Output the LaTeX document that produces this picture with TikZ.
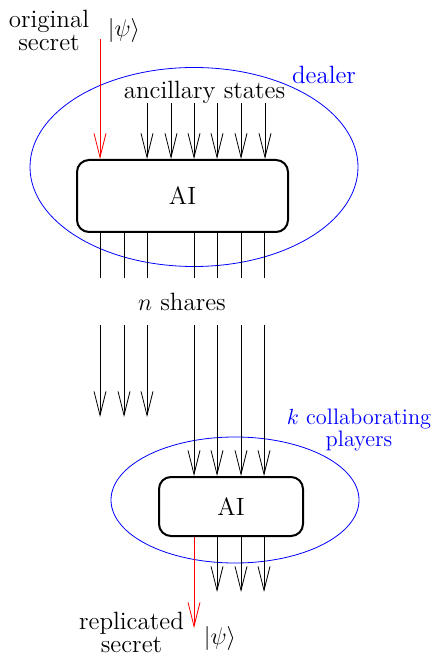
\documentclass[tikz,border=0pt]{standalone}
\usetikzlibrary{arrows.meta,shapes.geometric}

\tikzstyle{box} = [draw = black, line width = 1pt, rounded corners = 6pt, fill = white, font = \fontsize{12.5}{14}\selectfont]
\tikzstyle{zone} = [ellipse, draw = blue, inner sep = 0pt]
\tikzstyle{lbl} = [align = center, inner sep = 0pt, font = \fontsize{12.5}{11.5}\selectfont]
\tikzstyle{wire} = [-{Straight Barb[length = 12pt, width = 6pt]}]
\tikzstyle{secret} = [wire, draw = red]

\begin{document}
\begin{tikzpicture}[x = 0.5pt, y = -0.5pt]
    \useasboundingbox (0,0) rectangle (435,656);

    % dealer side
    \node [zone, minimum width = 164pt, minimum height = 99.5pt] (dealer) at (194,167) {};
    \node [box, minimum width = 105.5pt, minimum height = 36pt] (ai1) at (182.5,196) {AI};
    \node [lbl] (orig) at (49,30) {original\\secret};
    \node [lbl] (psi1) at (124,31) {$|\psi\rangle$};
    \node [lbl] (anc) at (204.5,92) {ancillary states};
    \node [lbl, text = blue] (dlbl) at (324,75) {dealer};
    \node [lbl] (shares) at (182,302) {$n$ shares};

    % players side
    \node [zone, minimum width = 124pt, minimum height = 63pt] (players) at (235,500) {};
    \node [box, minimum width = 72pt, minimum height = 29.5pt] (ai2) at (231,506.5) {AI};
    \node [lbl, text = blue, font = \fontsize{11.2}{9.5}\selectfont] (plbl) at (359,430) {$k$ collaborating\\players};
    \node [lbl] (repl) at (131.5,632) {replicated\\secret};
    \node [lbl] (psi2) at (220,638) {$|\psi\rangle$};

    % secret in and out
    \coordinate (s0) at (100,39);
    \coordinate (s1) at (194,628);
    \draw [secret] (s0) -- (ai1.north -| s0);
    \draw [secret] (ai2.south -| s1) -- (s1);

    % ancillary states
    \foreach \x in {147,171,194,217,241,265}
    {
        \coordinate (a\x) at (\x,103);
        \draw [wire] (a\x) -- (ai1.north -| a\x);
    }

    % shares leaving the dealer
    \foreach \x in {100,124,147,194,217,241,264}
    {
        \coordinate (t\x) at (\x,278);
        \coordinate (b\x) at (\x,325);
        \draw (ai1.south -| t\x) -- (t\x);
    }
    \foreach \x in {100,124,147}
    {
        \coordinate (e\x) at (\x,417);
        \draw [wire] (b\x) -- (e\x);
    }
    \foreach \x in {194,217,241,264}
        \draw [wire] (b\x) -- (ai2.north -| b\x);

    % ancillary outputs
    \foreach \x in {217,241,264}
    {
        \coordinate (o\x) at (\x,592);
        \draw [wire] (ai2.south -| o\x) -- (o\x);
    }
\end{tikzpicture}
\end{document}
